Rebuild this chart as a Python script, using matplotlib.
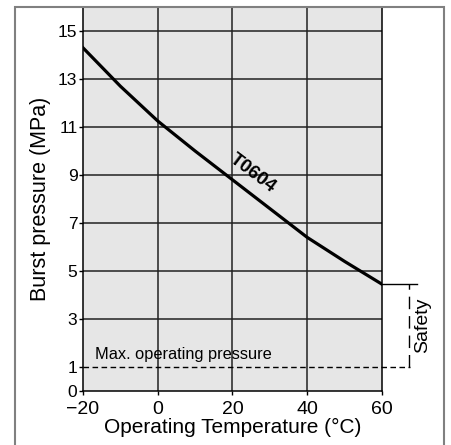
import numpy as np
import matplotlib.pyplot as plt
from matplotlib.patches import Rectangle

plt.rcParams['font.family'] = ['Liberation Sans', 'DejaVu Sans']

# curve
temp = [-20, -10, 0, 10, 20, 30, 40, 50, 60]
burst = [14.3, 12.7, 11.25, 10.0, 8.8, 7.6, 6.4, 5.4, 4.45]
yticks = [0, 1, 3, 5, 7, 9, 11, 13, 15]
xticks = [-20, 0, 20, 40, 60]
max_op = 1.0

fig = plt.figure(figsize=(4.52, 4.45), dpi=100)
ax = fig.add_axes([0.1836, 0.1213, 0.6615, 0.863])
ax.set_facecolor('#e6e6e6')

# outer frame
fig.patches.append(Rectangle((0.033, -0.05), 0.949, 1.034, transform=fig.transFigure,
                             fill=False, edgecolor='#808080', linewidth=1.5))

for y in [3, 5, 7, 9, 11, 13, 15]:
    ax.axhline(y, color='#222222', linewidth=1.1, zorder=1)
for x in [0, 20, 40]:
    ax.axvline(x, color='#222222', linewidth=1.1, zorder=1)

ax.plot(temp, burst, color='black', linewidth=2.3, zorder=3)
ax.plot([-20, 67.5], [max_op, max_op], color='black', linestyle=(0, (4, 2.5)),
        linewidth=1.0, clip_on=False, zorder=3)

# safety bracket
ax.plot([60, 69.5], [burst[-1], burst[-1]], color='black', linewidth=1.0, clip_on=False)
ax.plot([67.3, 67.3], [max_op, burst[-1]], color='black', linestyle=(0, (9, 5)),
        linewidth=1.0, clip_on=False)
ax.text(70.8, (max_op + burst[-1]) / 2, 'Safety', rotation=90, ha='center', va='center',
        fontsize=14)

ax.text(-16.8, 1.2, 'Max. operating pressure', fontsize=11.8, ha='left', va='bottom')
ax.text(25.4, 9.05, 'T0604', rotation=-37, fontsize=13.5, fontweight='bold',
        ha='center', va='center')

ax.set_xlim(-20, 60)
ax.set_ylim(0, 16)
ax.set_xticks(xticks)
ax.set_xticklabels(['\u221220', '0', '20', '40', '60'])
ax.set_yticks(yticks)
ax.tick_params(axis='x', labelsize=14, length=3, width=1, pad=4)
ax.tick_params(axis='y', labelsize=12.5, length=3, width=1, pad=1)
ax.spines['top'].set_visible(False)
for s in ['left', 'right', 'bottom']:
    ax.spines[s].set_linewidth(1.1)
ax.set_xlabel('Operating Temperature (\u00b0C)', fontsize=15, labelpad=0)
ax.set_ylabel('Burst pressure (MPa)', fontsize=15.5, labelpad=5)

fig.savefig('out.png', dpi=100)
